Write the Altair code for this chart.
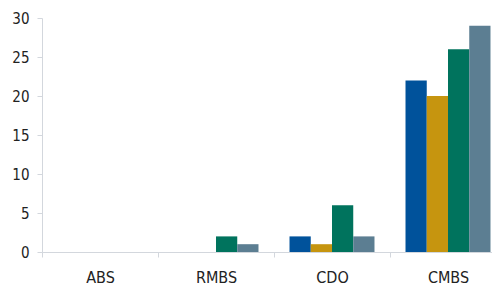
import altair as alt
import pandas as pd

categories = ["ABS", "RMBS", "CDO", "CMBS"]
series = ["S1", "S2", "S3", "S4"]
colors = ["#00529B", "#C6950F", "#00735D", "#5C7E92"]
values = {
    "S1": [0, 0, 2, 22],
    "S2": [0, 0, 1, 20],
    "S3": [0, 2, 6, 26],
    "S4": [0, 1, 2, 29],
}

rows = []
for s in series:
    for c, v in zip(categories, values[s]):
        rows.append({"category": c, "series": s, "value": v})
df = pd.DataFrame(rows)

FONT = "'DejaVu Sans Condensed', Roboto, sans-serif"

chart = alt.Chart(df).mark_bar().encode(
    x=alt.X("category:N", sort=categories,
            scale=alt.Scale(paddingInner=0, paddingOuter=0, range=[0, 464]),
            axis=alt.Axis(title=None, labelAngle=0, tickBand="extent",
                          domainColor="#D3D7DD", tickColor="#D3D7DD",
                          tickSize=5, labelPadding=12, labelFontSize=16,
                          labelColor="#222222", labelFont=FONT)),
    xOffset=alt.XOffset("series:N", sort=series,
                        scale=alt.Scale(paddingInner=0, paddingOuter=0.73)),
    y=alt.Y("value:Q", scale=alt.Scale(domain=[0, 30]),
            axis=alt.Axis(title=None, values=[0, 5, 10, 15, 20, 25, 30], grid=False,
                          domainColor="#D3D7DD", tickColor="#D3D7DD",
                          tickSize=5, labelPadding=8, labelFontSize=15,
                          labelColor="#222222", labelFont=FONT)),
    color=alt.Color("series:N", sort=series,
                    scale=alt.Scale(domain=series, range=colors), legend=None),
).properties(
    width=450, height=234,
    autosize=alt.AutoSizeParams(type="none"),
    padding={"left": 34, "top": 10, "right": 0, "bottom": 36},
).configure_view(stroke=None)

chart.save("out.html", embed_options={"renderer": "svg", "actions": False})
